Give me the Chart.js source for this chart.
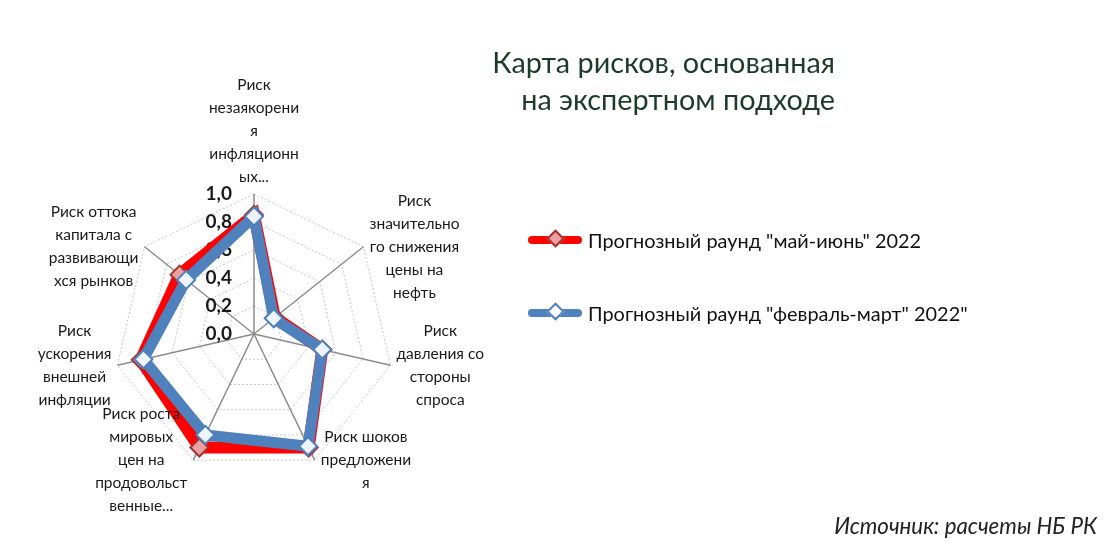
<!DOCTYPE html>
<html lang="ru">
<head>
<meta charset="UTF-8">
<title>Карта рисков</title>
<style>
  body { margin: 0; width: 1120px; height: 554px; background: #fff; font-family: Lato, "Open Sans", sans-serif; position: relative; overflow: hidden; }
  #wrap { position: absolute; left: 0; top: 0; width: 1120px; height: 554px; }
  .title { position: absolute; right: 285px; top: 44px; text-align: right; color: #1d3b29; font-size: 28.8px; line-height: 37px; }
  .legend { position: absolute; left: 528px; top: 0; }
  .item { position: absolute; left: 0; white-space: nowrap; font-size: 19.9px; color: #111; height: 24px; line-height: 24px; }
  .line { position: absolute; left: 0; top: 8px; width: 54px; height: 8px; border-radius: 4px; }
  .dia { position: absolute; left: 21px; top: 4px; width: 9px; height: 9px; transform: rotate(45deg); }
  .item span.t { margin-left: 60px; }
  .source { position: absolute; right: 23px; top: 512px; font-size: 22.3px; font-style: italic; color: #222; }
</style>
</head>
<body>
<div id="wrap"><canvas id="chart"></canvas></div>
<div class="title">Карта рисков, основанная<br>на экспертном подходе</div>
<div class="legend">
  <div class="item" style="top:228px"><div class="line" style="background:#ff0000"></div><div class="dia" style="background:#e8a0a0;border:2px solid #a83232"></div><span class="t">Прогнозный раунд "май-июнь" 2022</span></div>
  <div class="item" style="top:301px"><div class="line" style="background:#4f81bd"></div><div class="dia" style="background:#ffffff;border:2px solid #4f81bd"></div><span class="t">Прогнозный раунд "февраль-март" 2022"</span></div>
</div>
<div class="source">Источник: расчеты НБ РК</div>

<script src="https://cdn.jsdelivr.net/npm/chart.js"></script>
<script>
const categories = [
  ['Риск', 'незаякорени', 'я', 'инфляционн', 'ых...'],
  ['Риск', 'значительно', 'го снижения', 'цены на', 'нефть'],
  ['Риск', 'давления со', 'стороны', 'спроса'],
  ['Риск шоков', 'предложени', 'я'],
  ['Риск роста', 'мировых', 'цен на', 'продовольст', 'венные...'],
  ['Риск', 'ускорения', 'внешней', 'инфляции'],
  ['Риск оттока', 'капитала с', 'развивающи', 'хся рынков']
];
const mayJune = [0.85, 0.19, 0.50, 0.90, 0.90, 0.83, 0.68];
const febMarch = [0.84, 0.18, 0.50, 0.89, 0.80, 0.81, 0.62];
const tickValues = [0, 0.2, 0.4, 0.6, 0.8, 1.0];

const fmt = v => v.toFixed(1).replace('.', ',');

// tick labels sit left of the top spoke, under the lines
const tickLabels = {
  id: 'tickLabels',
  beforeDatasetsDraw(chart) {
    const s = chart.scales.r;
    const ctx = chart.ctx;
    ctx.save();
    ctx.font = 'bold 19px Lato, sans-serif';
    ctx.fillStyle = '#1a1a1a';
    ctx.textAlign = 'right';
    ctx.textBaseline = 'middle';
    tickValues.forEach(v => {
      const d = s.getDistanceFromCenterForValue(v);
      ctx.fillText(fmt(v), s.xCenter - 22, s.yCenter - d);
    });
    ctx.restore();
  }
};

// category labels: centred text blocks next to the spoke ends (Excel style)
const catLabels = {
  id: 'catLabels',
  afterDraw(chart) {
    const s = chart.scales.r;
    const ctx = chart.ctx;
    const lh = 23, pad = 6;
    ctx.save();
    ctx.font = '15.5px Lato, sans-serif';
    ctx.fillStyle = '#1a1a1a';
    ctx.textAlign = 'center';
    ctx.textBaseline = 'middle';
    categories.forEach((lines, i) => {
      const p = s.getPointPosition(i, s.drawingArea);
      const w = Math.max(...lines.map(t => ctx.measureText(t).width));
      const h = lines.length * lh;
      let cx, top;
      if (Math.abs(p.x - s.xCenter) < 5) {
        cx = p.x;
        top = p.y - 6 - h;
      } else {
        cx = p.x > s.xCenter ? p.x + pad + w / 2 : p.x - pad - w / 2;
        top = p.y - h / 2;
      }
      lines.forEach((t, k) => ctx.fillText(t, cx, top + lh * k + lh / 2));
    });
    ctx.restore();
  }
};

new Chart(document.getElementById('chart'), {
  type: 'radar',
  data: {
    labels: categories,
    datasets: [
      {
        label: 'Прогнозный раунд "май-июнь" 2022',
        data: mayJune,
        borderColor: '#ff0000',
        borderWidth: 12,
        fill: false,
        pointStyle: 'rectRot',
        pointRadius: 9,
        pointBackgroundColor: '#e8a0a0',
        pointBorderColor: '#a83232',
        pointBorderWidth: 2,
        order: 1
      },
      {
        label: 'Прогнозный раунд "февраль-март" 2022"',
        data: febMarch,
        borderColor: '#4f81bd',
        borderWidth: 11,
        fill: false,
        pointStyle: 'rectRot',
        pointRadius: 9,
        pointBackgroundColor: '#eef4fb',
        pointBorderColor: '#4f81bd',
        pointBorderWidth: 2,
        order: 0
      }
    ]
  },
  options: {
    responsive: true,
    maintainAspectRatio: false,
    animation: false,
    layout: { padding: { left: 114, right: 726, top: 194, bottom: 80 } },
    plugins: { legend: { display: false }, tooltip: { enabled: false } },
    elements: { line: { tension: 0, borderJoinStyle: 'miter' } },
    scales: {
      r: {
        min: 0,
        max: 1,
        ticks: { stepSize: 0.2, display: false },
        grid: { color: '#c4c4c4', lineWidth: 1 },
        border: { dash: [2, 2] },
        angleLines: { color: '#8c8c8c', lineWidth: 1.5 },
        pointLabels: { display: false }
      }
    }
  },
  plugins: [tickLabels, catLabels]
});
</script>
</body>
</html>
